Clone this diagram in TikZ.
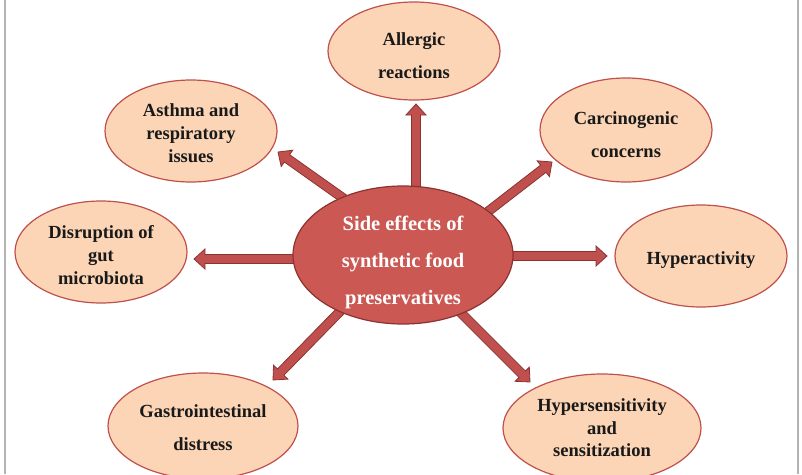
\documentclass[tikz,border=0pt]{standalone}
\usepackage{fontspec}
\setmainfont{Liberation Serif}
\usetikzlibrary{shapes.geometric,calc}
\definecolor{peach}{HTML}{FBD5B5}
\definecolor{redline}{HTML}{C0504D}
\definecolor{centerfill}{HTML}{CB5853}
\definecolor{darkred}{HTML}{8C3230}
\definecolor{framegray}{HTML}{B4B4B4}
\tikzset{
  effect/.style={ellipse, draw=redline, line width=1.2pt, fill=peach, inner sep=0pt,
    minimum width=172pt, minimum height=102pt},
  txt/.style={inner sep=0pt, align=center, text=black!90},
  f23/.style={font=\bfseries\fontsize{18.5}{23}\selectfont},
  f33/.style={font=\bfseries\fontsize{18.5}{33}\selectfont},
  hub/.style={ellipse, draw=darkred, line width=1.2pt, fill=centerfill, inner sep=0pt,
    minimum width=220pt, minimum height=138pt},
  hubtxt/.style={inner sep=0pt, align=center, text=white,
    font=\bfseries\fontsize{20.5}{37}\selectfont},
  barrow/.style={fill=redline, draw=darkred, line width=0.8pt, line join=miter},
  framerule/.style={draw=framegray, line width=1.5pt}
}
\newcommand\blockarrow[2]{%
  \coordinate (#2-hb) at ($(#2)!11pt!(#1)$);
  \path[barrow] ($(#1)!4.5pt!90:(#2)$) -- ($(#2-hb)!4.5pt!-90:(#1)$)
    -- ($(#2-hb)!10pt!-90:(#1)$) -- (#2) -- ($(#2-hb)!10pt!90:(#1)$)
    -- ($(#2-hb)!4.5pt!90:(#1)$) -- ($(#1)!4.5pt!-90:(#2)$) -- cycle;}
\begin{document}
\begin{tikzpicture}[x=1pt,y=-1pt]
\useasboundingbox (0,0) rectangle (802,474);
\clip (0,0) rectangle (802,474);
\fill[white] (0,0) rectangle (802,474);
\draw[framerule] (5,0) -- (5,474);
\draw[framerule] (798,0) -- (798,474);

% arrow end points
\coordinate (s1) at (416,205); \coordinate (t1) at (416,104);
\coordinate (s2) at (477,220); \coordinate (t2) at (552,162);
\coordinate (s3) at (500,256); \coordinate (t3) at (607,256);
\coordinate (s4) at (350,203); \coordinate (t4) at (278,152);
\coordinate (s5) at (305,259); \coordinate (t5) at (194,259);
\coordinate (s6) at (355,296); \coordinate (t6) at (273,380);
\coordinate (s7) at (450,302); \coordinate (t7) at (530,382);

\blockarrow{s1}{t1}
\blockarrow{s2}{t2}
\blockarrow{s3}{t3}
\blockarrow{s4}{t4}
\blockarrow{s5}{t5}
\blockarrow{s6}{t6}
\blockarrow{s7}{t7}

\node[effect, minimum height=98pt] (allergic) at (414,51) {};
\node[txt, f33] (allergic-t) at ($(allergic)+(0,5)$) {Allergic\\reactions};
\node[effect] (asthma) at (191,131) {};
\node[txt, f23] (asthma-t) at ($(asthma)+(0,2)$) {Asthma and\\respiratory\\issues};
\node[effect, minimum height=104pt] (carcin) at (626,130) {};
\node[txt, f33] (carcin-t) at ($(carcin)+(0,5)$) {Carcinogenic\\concerns};
\node[effect] (hyper) at (701,256) {};
\node[txt, f23] (hyper-t) at ($(hyper)+(0,4)$) {Hyperactivity};
\node[effect] (disrupt) at (101,252) {};
\node[txt, f23] (disrupt-t) at ($(disrupt)+(0,3)$) {Disruption of\\gut\\microbiota};
\node[effect, minimum width=190pt, minimum height=106pt] (gastro) at (203,426) {};
\node[txt, f33] (gastro-t) at ($(gastro)+(0,2)$) {Gastrointestinal\\distress};
\node[effect, minimum width=198pt, minimum height=108pt] (hypersens) at (602,428) {};
\node[txt, font=\bfseries\fontsize{18.5}{22.5}\selectfont] (hypersens-t) at (hypersens) {Hypersensitivity\\and\\sensitization};

\node[hub] (c) at (403,255) {};
\node[hubtxt] (c-t) at ($(c)+(0,7)$) {Side effects of\\synthetic food\\preservatives};
\end{tikzpicture}
\end{document}
